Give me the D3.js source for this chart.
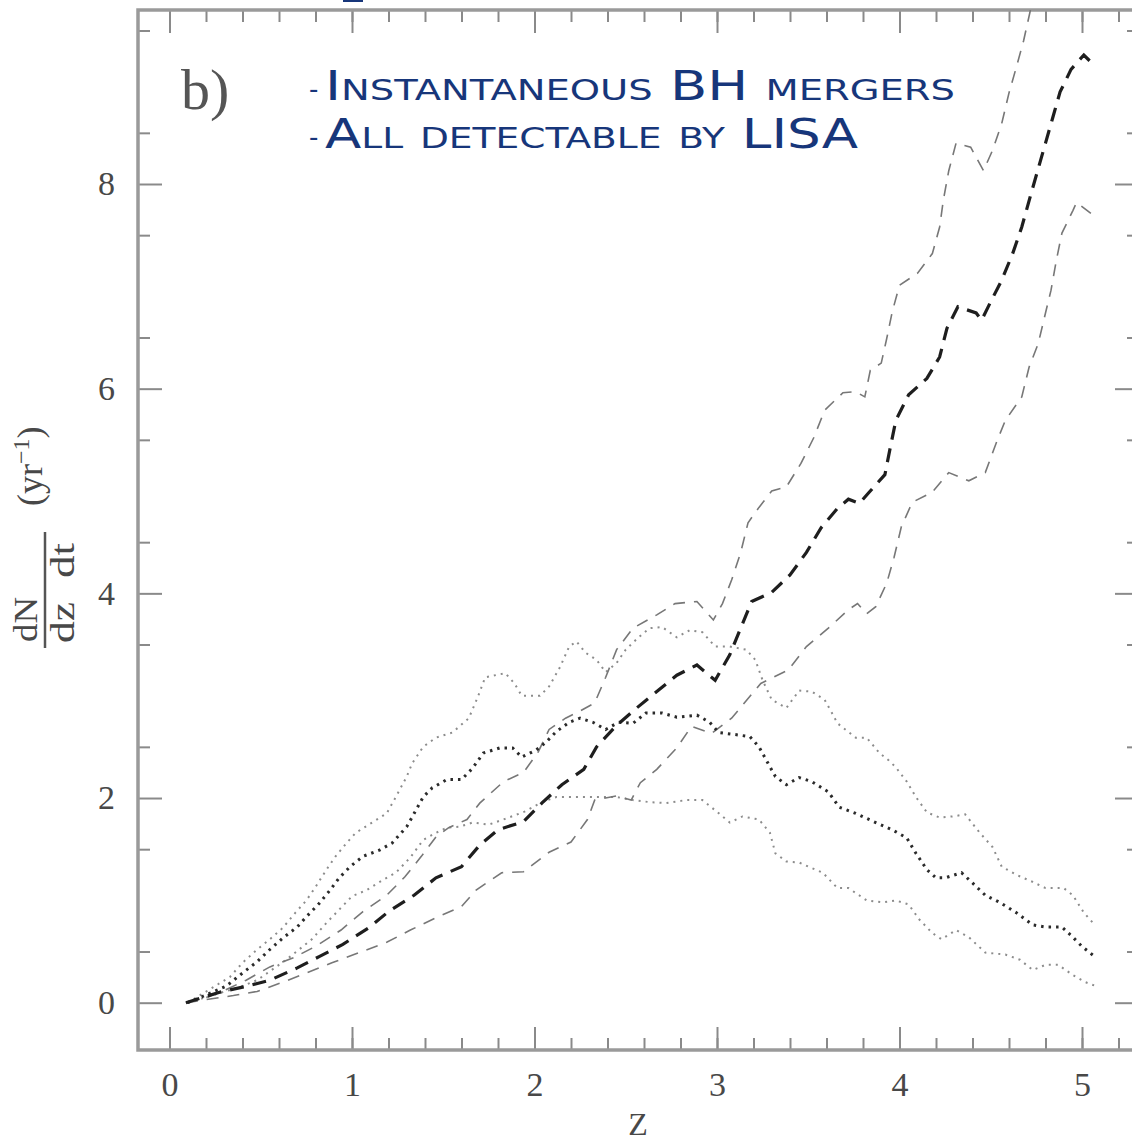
<!DOCTYPE html>
<html lang="en">
<head>
<meta charset="UTF-8"/>
<title>dN/dz dt - instantaneous BH mergers</title>
<style>
  body { margin: 0; background: #fff; overflow: hidden; }
  svg { display: block; }
  text { font-family: "Liberation Serif", "DejaVu Serif", serif; fill: #484848; }
  .frame { fill: none; stroke: #9a9a9a; stroke-width: 3.5; }
  .tick line { stroke: #8a8a8a; stroke-width: 2; }
  .domain { display: none; }
  .axis text { font-size: 34px; }
  .note { font-family: "DejaVu Sans", sans-serif; font-variant: small-caps; font-size: 41px; fill: #17367a; }
  .curve { fill: none; }
  .dash-med { stroke: #1e1e1e; stroke-width: 3.2; stroke-dasharray: 14 9; }
  .dash-bnd { stroke: #777; stroke-width: 1.6; stroke-dasharray: 12 9; }
  .dot-med { stroke: #2a2a2a; stroke-width: 3; stroke-dasharray: 2.5 5; }
  .dot-bnd { stroke: #8c8c8c; stroke-width: 2; stroke-dasharray: 2 5; }
</style>
</head>
<body>
<svg width="1132" height="1141"></svg>
<script src="https://d3js.org/d3.v7.min.js"></script>
<script>
const xMajor = [0, 1, 2, 3, 4, 5];
const yMajor = [0, 2, 4, 6, 8];
const notes = ['Instantaneous BH mergers', 'All detectable by LISA'];

const dashedMedZ = [
  0.09, 0.27, 0.42, 0.55, 0.70, 0.82, 0.95, 1.09, 1.20, 1.34,
  1.46, 1.60, 1.70, 1.80, 1.94, 2.04, 2.15, 2.27, 2.34, 2.45,
  2.56, 2.67, 2.78, 2.89, 2.99, 3.07, 3.13, 3.19, 3.30, 3.40,
  3.49, 3.57, 3.66, 3.72, 3.78, 3.83, 3.92, 3.95, 3.98, 4.05,
  4.15, 4.22, 4.26, 4.32, 4.42, 4.45, 4.50, 4.56, 4.62, 4.67,
  4.72, 4.76, 4.80, 4.84, 4.88, 4.94, 5.01, 5.05];
const dashedMedN = [
  0.00, 0.10, 0.16, 0.22, 0.34, 0.45, 0.57, 0.73, 0.89, 1.05,
  1.22, 1.33, 1.54, 1.69, 1.77, 1.95, 2.13, 2.28, 2.50, 2.71,
  2.88, 3.04, 3.20, 3.30, 3.15, 3.40, 3.66, 3.92, 4.01, 4.18,
  4.40, 4.64, 4.83, 4.92, 4.88, 4.98, 5.16, 5.43, 5.69, 5.94,
  6.10, 6.31, 6.59, 6.80, 6.74, 6.67, 6.85, 7.06, 7.32, 7.58,
  7.90, 8.15, 8.40, 8.65, 8.90, 9.12, 9.26, 9.19];

const dashedHiZ = [
  0.09, 0.20, 0.30, 0.42, 0.55, 0.68, 0.80, 0.94, 1.06, 1.19,
  1.29, 1.38, 1.46, 1.53, 1.63, 1.70, 1.83, 1.94, 2.02, 2.08,
  2.17, 2.25, 2.33, 2.39, 2.45, 2.54, 2.67, 2.77, 2.89, 2.98,
  3.03, 3.08, 3.13, 3.17, 3.23, 3.30, 3.38, 3.46, 3.53, 3.59,
  3.69, 3.76, 3.81, 3.84, 3.90, 3.93, 3.96, 4.00, 4.10, 4.18,
  4.22, 4.24, 4.27, 4.31, 4.39, 4.46, 4.51, 4.56, 4.60, 4.64,
  4.68, 4.72];
const dashedHiN = [
  0.00, 0.05, 0.12, 0.22, 0.35, 0.44, 0.55, 0.71, 0.89, 1.05,
  1.23, 1.43, 1.62, 1.71, 1.79, 1.95, 2.16, 2.25, 2.45, 2.67,
  2.78, 2.85, 2.93, 3.18, 3.45, 3.66, 3.79, 3.90, 3.92, 3.74,
  3.90, 4.13, 4.40, 4.69, 4.84, 5.00, 5.04, 5.27, 5.52, 5.79,
  5.96, 5.97, 5.92, 6.18, 6.25, 6.49, 6.75, 7.01, 7.13, 7.32,
  7.58, 7.84, 8.13, 8.40, 8.36, 8.13, 8.33, 8.59, 8.89, 9.14,
  9.40, 9.72];

const dashedLoZ = [
  0.09, 0.20, 0.35, 0.48, 0.62, 0.75, 0.89, 1.04, 1.19, 1.32,
  1.46, 1.60, 1.68, 1.82, 1.94, 2.08, 2.20, 2.29, 2.33, 2.45,
  2.53, 2.58, 2.67, 2.78, 2.86, 2.97, 3.08, 3.16, 3.24, 3.39,
  3.49, 3.61, 3.72, 3.77, 3.82, 3.87, 3.93, 3.97, 4.01, 4.07,
  4.18, 4.27, 4.38, 4.47, 4.53, 4.58, 4.67, 4.71, 4.76, 4.80,
  4.83, 4.86, 4.89, 4.95, 4.97, 5.05];
const dashedLoN = [
  0.00, 0.03, 0.07, 0.11, 0.20, 0.29, 0.39, 0.49, 0.59, 0.71,
  0.83, 0.94, 1.10, 1.27, 1.28, 1.47, 1.57, 1.79, 1.98, 2.02,
  1.98, 2.15, 2.28, 2.49, 2.70, 2.63, 2.78, 2.95, 3.12, 3.25,
  3.48, 3.66, 3.84, 3.90, 3.80, 3.87, 4.10, 4.35, 4.65, 4.89,
  4.99, 5.18, 5.10, 5.18, 5.47, 5.69, 5.92, 6.21, 6.44, 6.74,
  6.96, 7.26, 7.52, 7.74, 7.82, 7.71];

const dottedHiZ = [
  0.10, 0.22, 0.33, 0.40, 0.48, 0.55, 0.62, 0.69, 0.75, 0.80,
  0.86, 0.91, 0.97, 1.02, 1.11, 1.19, 1.24, 1.30, 1.33, 1.39,
  1.46, 1.55, 1.64, 1.69, 1.73, 1.84, 1.89, 1.93, 2.03, 2.08,
  2.14, 2.19, 2.23, 2.28, 2.34, 2.39, 2.45, 2.50, 2.57, 2.63,
  2.70, 2.78, 2.85, 2.92, 2.99, 3.07, 3.16, 3.21, 3.25, 3.30,
  3.38, 3.45, 3.52, 3.59, 3.63, 3.66, 3.76, 3.82, 3.89, 3.94,
  3.98, 4.04, 4.09, 4.15, 4.22, 4.29, 4.36, 4.44, 4.51, 4.56,
  4.64, 4.73, 4.80, 4.90, 4.95, 5.01, 5.07];
const dottedHiN = [
  0.00, 0.13, 0.25, 0.39, 0.52, 0.62, 0.73, 0.88, 1.00, 1.13,
  1.30, 1.43, 1.56, 1.66, 1.76, 1.85, 2.01, 2.21, 2.34, 2.50,
  2.59, 2.64, 2.78, 2.99, 3.18, 3.22, 3.12, 3.00, 3.00, 3.09,
  3.28, 3.48, 3.53, 3.42, 3.35, 3.23, 3.32, 3.45, 3.57, 3.66,
  3.67, 3.57, 3.64, 3.62, 3.48, 3.48, 3.45, 3.35, 3.15, 2.96,
  2.88, 3.05, 3.04, 2.96, 2.83, 2.73, 2.59, 2.59, 2.44, 2.37,
  2.30, 2.16, 2.01, 1.86, 1.81, 1.82, 1.84, 1.66, 1.52, 1.33,
  1.25, 1.18, 1.12, 1.12, 1.05, 0.88, 0.76];

const dottedMedZ = [
  0.10, 0.31, 0.40, 0.48, 0.55, 0.62, 0.70, 0.75, 0.82, 0.88,
  0.93, 0.99, 1.06, 1.15, 1.22, 1.30, 1.35, 1.39, 1.44, 1.52,
  1.60, 1.66, 1.72, 1.81, 1.88, 1.93, 2.01, 2.06, 2.12, 2.19,
  2.25, 2.32, 2.39, 2.46, 2.54, 2.61, 2.70, 2.78, 2.89, 2.96,
  3.01, 3.10, 3.18, 3.23, 3.27, 3.32, 3.38, 3.45, 3.52, 3.61,
  3.67, 3.76, 3.87, 3.96, 4.04, 4.09, 4.15, 4.20, 4.25, 4.34,
  4.40, 4.47, 4.55, 4.64, 4.73, 4.80, 4.89, 4.95, 5.00, 5.07];
const dottedMedN = [
  0.00, 0.16, 0.29, 0.40, 0.52, 0.63, 0.74, 0.84, 0.97, 1.10,
  1.22, 1.33, 1.43, 1.49, 1.56, 1.72, 1.88, 2.01, 2.10, 2.18,
  2.18, 2.29, 2.44, 2.49, 2.49, 2.40, 2.47, 2.54, 2.65, 2.74,
  2.78, 2.74, 2.67, 2.74, 2.73, 2.83, 2.83, 2.79, 2.81, 2.74,
  2.64, 2.62, 2.60, 2.50, 2.37, 2.21, 2.13, 2.20, 2.16, 2.06,
  1.91, 1.85, 1.76, 1.69, 1.61, 1.46, 1.30, 1.22, 1.22, 1.27,
  1.17, 1.05, 0.98, 0.88, 0.76, 0.74, 0.74, 0.64, 0.55, 0.45];

const dottedLoZ = [
  0.10, 0.25, 0.38, 0.48, 0.56, 0.64, 0.71, 0.78, 0.86, 0.93,
  1.00, 1.08, 1.17, 1.24, 1.32, 1.39, 1.46, 1.52, 1.59, 1.66,
  1.75, 1.86, 1.95, 2.04, 2.12, 2.23, 2.34, 2.45, 2.54, 2.63,
  2.72, 2.83, 2.92, 2.99, 3.07, 3.14, 3.23, 3.29, 3.32, 3.38,
  3.45, 3.50, 3.58, 3.66, 3.72, 3.82, 3.91, 3.98, 4.05, 4.11,
  4.18, 4.23, 4.31, 4.38, 4.47, 4.58, 4.66, 4.73, 4.80, 4.87,
  4.95, 5.02, 5.08];
const dottedLoN = [
  0.00, 0.08, 0.15, 0.22, 0.32, 0.42, 0.52, 0.62, 0.78, 0.91,
  1.04, 1.10, 1.20, 1.27, 1.42, 1.59, 1.66, 1.71, 1.72, 1.76,
  1.74, 1.81, 1.87, 1.96, 2.01, 2.01, 2.01, 2.01, 1.98, 1.96,
  1.95, 1.98, 1.98, 1.88, 1.76, 1.82, 1.79, 1.66, 1.46, 1.38,
  1.37, 1.33, 1.27, 1.12, 1.12, 1.00, 0.98, 1.00, 0.96, 0.81,
  0.68, 0.62, 0.71, 0.64, 0.49, 0.47, 0.42, 0.32, 0.37, 0.37,
  0.27, 0.20, 0.16];

const series = [
  { z: dottedLoZ, n: dottedLoN, cls: 'dot-bnd' },
  { z: dottedHiZ, n: dottedHiN, cls: 'dot-bnd' },
  { z: dashedLoZ, n: dashedLoN, cls: 'dash-bnd' },
  { z: dashedHiZ, n: dashedHiN, cls: 'dash-bnd' },
  { z: dottedMedZ, n: dottedMedN, cls: 'dot-med' },
  { z: dashedMedZ, n: dashedMedN, cls: 'dash-med' }
];

const svg = d3.select('svg');
// frame edges in pixels; the right edge sits just past the picture
const plotLeft = 138, plotRight = 1139, plotTop = 10, plotBottom = 1050;

const x = d3.scaleLinear().domain([0, 5]).range([169.5, 1082]);
const y = d3.scaleLinear().domain([0, 8]).range([1002.7, 184]);

const xMinor = d3.range(0, 5.21, 0.2);
const yMinor = d3.range(0.5, 9.6, 1);

svg.append('clipPath')
  .attr('id', 'plot')
  .append('rect')
  .attr('x', plotLeft).attr('y', plotTop)
  .attr('width', plotRight - plotLeft).attr('height', plotBottom - plotTop);

// ticks on all four sides, labels only bottom/left
svg.append('g').attr('class', 'axis')
  .attr('transform', `translate(0, ${plotBottom})`)
  .call(d3.axisBottom(x).tickValues(xMajor).tickSize(-23).tickPadding(22).tickFormat(d3.format('d')));
svg.append('g').attr('class', 'axis')
  .attr('transform', `translate(0, ${plotBottom})`)
  .call(d3.axisBottom(x).tickValues(xMinor).tickSize(-12).tickFormat(''));
svg.append('g').attr('class', 'axis')
  .attr('transform', `translate(0, ${plotTop})`)
  .call(d3.axisTop(x).tickValues(xMajor).tickSize(-23).tickFormat(''));
svg.append('g').attr('class', 'axis')
  .attr('transform', `translate(0, ${plotTop})`)
  .call(d3.axisTop(x).tickValues(xMinor).tickSize(-12).tickFormat(''));

svg.append('g').attr('class', 'axis')
  .attr('transform', `translate(${plotLeft}, 0)`)
  .call(d3.axisLeft(y).tickValues(yMajor).tickSize(-24).tickPadding(23).tickFormat(d3.format('d')));
svg.append('g').attr('class', 'axis')
  .attr('transform', `translate(${plotLeft}, 0)`)
  .call(d3.axisLeft(y).tickValues(yMinor).tickSize(-12).tickFormat(''));
svg.append('g').attr('class', 'axis')
  .attr('transform', `translate(${plotRight}, 0)`)
  .call(d3.axisRight(y).tickValues(yMajor).tickSize(-24).tickFormat(''));
svg.append('g').attr('class', 'axis')
  .attr('transform', `translate(${plotRight}, 0)`)
  .call(d3.axisRight(y).tickValues(yMinor).tickSize(-12).tickFormat(''));

svg.append('rect')
  .attr('class', 'frame')
  .attr('x', plotLeft).attr('y', plotTop)
  .attr('width', plotRight - plotLeft).attr('height', plotBottom - plotTop);

const line = d3.line()
  .x(d => x(d[0]))
  .y(d => y(d[1]));

svg.append('g')
  .attr('clip-path', 'url(#plot)')
  .selectAll('path')
  .data(series)
  .enter()
  .append('path')
  .attr('class', d => 'curve ' + d.cls)
  .attr('d', d => line(d3.zip(d.z, d.n)));

// axis titles
svg.append('text')
  .attr('x', 638)
  .attr('y', 1135)
  .attr('text-anchor', 'middle')
  .style('font-size', '32px')
  .text('Z');

const ylab = svg.append('g')
  .attr('transform', 'translate(45, 590) rotate(-90)');
ylab.append('line')
  .attr('x1', -58).attr('x2', 58)
  .attr('y1', 0).attr('y2', 0)
  .attr('stroke', '#555')
  .attr('stroke-width', 2.5);
ylab.append('text')
  .attr('x', -52).attr('y', -8)
  .attr('textLength', 45)
  .attr('lengthAdjust', 'spacingAndGlyphs')
  .style('font-size', '34px')
  .text('dN');
ylab.append('text')
  .attr('x', -53).attr('y', 29)
  .attr('textLength', 41)
  .attr('lengthAdjust', 'spacingAndGlyphs')
  .style('font-size', '34px')
  .text('dz');
ylab.append('text')
  .attr('x', 12).attr('y', 29)
  .attr('textLength', 35)
  .attr('lengthAdjust', 'spacingAndGlyphs')
  .style('font-size', '34px')
  .text('dt');
const unit = ylab.append('text')
  .attr('x', 84).attr('y', -3)
  .style('font-size', '36px');
unit.append('tspan').text('(yr');
unit.append('tspan').attr('dy', -13).style('font-size', '24px').text('−1');
unit.append('tspan').attr('dy', 13).text(')');

svg.append('text')
  .attr('x', 181)
  .attr('y', 109)
  .style('font-size', '58px')
  .style('fill', '#555')
  .text('b)');

// blue annotation
svg.append('rect')
  .attr('x', 343).attr('y', 0)
  .attr('width', 20).attr('height', 2)
  .attr('fill', '#17367a');
const noteRows = svg.selectAll('g.note-row')
  .data(notes)
  .enter()
  .append('g')
  .attr('class', 'note-row')
  .attr('transform', (d, i) => `translate(0, ${100 + i * 48})`);
noteRows.append('text')
  .attr('class', 'note')
  .attr('x', 309)
  .attr('y', -2)
  .style('font-size', '26px')
  .text('-');
noteRows.append('text')
  .attr('class', 'note')
  .attr('x', 325)
  .attr('textLength', (d, i) => i === 0 ? 630 : 533)
  .attr('lengthAdjust', 'spacingAndGlyphs')
  .text(d => d);
</script>
</body>
</html>
